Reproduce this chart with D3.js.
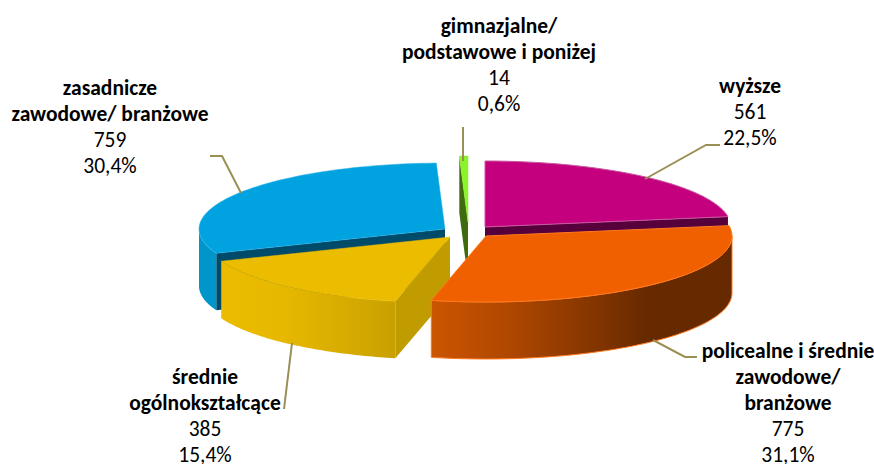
<!DOCTYPE html>
<html><head><meta charset="utf-8">
<style>html,body{margin:0;padding:0;background:#fff}svg{display:block}text{font-family:Carlito,Lato,"Open Sans",sans-serif;fill:#000}</style>
<script src="https://cdnjs.cloudflare.com/ajax/libs/d3/7.8.5/d3.min.js"></script>
</head><body><svg id="c" width="874" height="464"></svg>
<script>
const categories = ["wyższe","policealne i średnie zawodowe/ branżowe","średnie ogólnokształcące","zasadnicze zawodowe/ branżowe","gimnazjalne/ podstawowe i poniżej"];
const values = [561,775,385,759,14];
const percents = ["22,5%","31,1%","15,4%","30,4%","0,6%"];
const labelLines = [["wyższe"],["policealne i średnie","zawodowe/","branżowe"],["średnie","ogólnokształcące"],["zasadnicze","zawodowe/ branżowe"],["gimnazjalne/","podstawowe i poniżej"]];

const topColors = ["#c4007f","#f06000","#ebbc00","#00a3e0","#8cf22a"];
const edgeColors = ["#c9579f","#ff7a1f","#ebbc00","#2fb2e6","#8cf22a"];
const cutColors = ["#56003c","#c05000","#c09c00","#004a6a","#3f6a10"];
const wallStops = [
 [["0","#8a0058"],["1","#56003c"]],
 [["0","#cc5500"],["0.25","#b04800"],["0.5","#8a3800"],["0.72","#672900"],["1","#672900"]],
 [["0","#ebbc00"],["0.35","#e6b800"],["0.7","#d8ac00"],["1","#c8a000"]],
 [["0","#0096cc"],["1","#0096cc"]],
 [["0","#3f6a10"],["1","#3f6a10"]]
];
const explode = [[485,227],[486,236],[450,237],[445,229],[468,222]];
const labelAnchors = [[750,93],[788,358],[205,384],[110,95],[499,33]];
const leaders = [
 [[645,179],[706,145],[720,145]],
 [[653,340],[685,357],[697,357]],
 [[292,343],[284,409]],
 [[241,193],[222,156],[210,156]],
 [[463,161],[463,127]]
];
const RX=246, RY=66, DEPTH=57, LH=26, FS=21.5;

const svg=d3.select("#c");
const pie=d3.pie().sort(null).value(d=>d);
const arcs=pie(values);
const defs=svg.append("defs");
const line=d3.line();
const project=(i,a,r=1,dz=0)=>[explode[i][0]+RX*r*Math.sin(a), explode[i][1]-RY*r*Math.cos(a)+dz];
const sampleArc=(i,a0,a1,dz=0)=>d3.range(0,61).map(k=>project(i,a0+(a1-a0)*k/60,1,dz));

const order=[0,3,4,2,1];
order.forEach(i=>{
  const {startAngle:a0,endAngle:a1}=arcs[i];
  const g=svg.append("g");
  const cutFace=(a)=>{
    const ap=[explode[i][0],explode[i][1]];
    const pts=[ap,project(i,a),project(i,a,1,DEPTH),[ap[0],ap[1]+DEPTH]];
    g.append("path").attr("d",line(pts)+"Z").attr("fill",cutColors[i]);
  };
  if(i===0) cutFace(a1);
  if(i===2) cutFace(a0);
  if(i===3) cutFace(a0);
  if(i===4) cutFace(a0);
  const v0=Math.max(a0,Math.PI/2), v1=Math.min(a1,Math.PI*1.5);
  if(v1>v0){
    const pts=sampleArc(i,v0,v1).concat(sampleArc(i,v0,v1,DEPTH).reverse());
    const xs=pts.map(p=>p[0]);
    const id="w"+i;
    const gr=defs.append("linearGradient").attr("id",id).attr("gradientUnits","userSpaceOnUse")
      .attr("x1",d3.min(xs)).attr("x2",d3.max(xs)).attr("y1",0).attr("y2",0);
    wallStops[i].forEach(s=>gr.append("stop").attr("offset",s[0]).attr("stop-color",s[1]));
    g.append("path").attr("d",line(pts)+"Z").attr("fill",`url(#${id})`)
      .attr("stroke",i===1?edgeColors[1]:"none").attr("stroke-width",i===1?1:0);
  }
  const top=[[explode[i][0],explode[i][1]]].concat(sampleArc(i,a0,a1));
  g.append("path").attr("d",line(top)+"Z").attr("fill",topColors[i])
    .attr("stroke",edgeColors[i]).attr("stroke-width",(i===0||i===1)?1:0.5);
});

leaders.forEach(l=>svg.append("path").attr("d",line(l)).attr("fill","none").attr("stroke","#9a8f55").attr("stroke-width",2));

labelLines.forEach((ls,i)=>{
  const [x,y]=labelAnchors[i];
  const t=svg.append("text").attr("text-anchor","middle").attr("font-size",FS);
  ls.forEach((s,k)=>t.append("tspan").attr("x",x).attr("y",y+k*LH).attr("font-weight",700).text(s));
  t.append("tspan").attr("x",x).attr("y",y+ls.length*LH).text(d3.format("d")(values[i]));
  t.append("tspan").attr("x",x).attr("y",y+(ls.length+1)*LH).text(percents[i]);
});
</script></body></html>
